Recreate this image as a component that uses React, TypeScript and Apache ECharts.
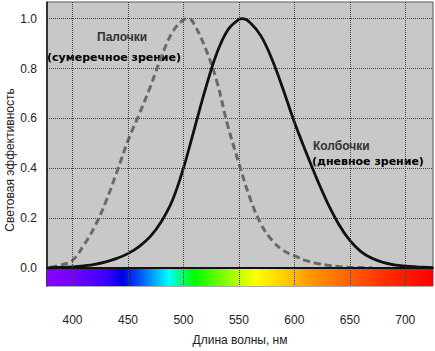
import React, { useEffect, useRef } from "react";
import * as echarts from "echarts";

const scotopicWl = [380, 390, 400, 410, 420, 430, 440, 450, 460, 470, 480, 490, 500, 505, 510, 520, 530, 540, 550, 560, 570, 580, 590, 600, 610, 620, 630, 640, 650, 660, 670];
const scotopicV = [0.002, 0.012, 0.03, 0.09, 0.165, 0.265, 0.385, 0.51, 0.615, 0.725, 0.845, 0.945, 0.995, 1.0, 0.975, 0.88, 0.75, 0.57, 0.42, 0.28, 0.175, 0.11, 0.07, 0.048, 0.03, 0.018, 0.01, 0.005, 0.002, 0.001, 0.0];

const photopicWl = [377, 390, 400, 410, 420, 430, 440, 450, 460, 470, 480, 490, 500, 510, 520, 530, 540, 550, 553, 560, 570, 580, 590, 600, 610, 620, 630, 640, 650, 660, 670, 680, 690, 700, 710, 720, 725];
const photopicV = [0.0, 0.002, 0.004, 0.008, 0.014, 0.024, 0.038, 0.057, 0.085, 0.125, 0.185, 0.27, 0.4, 0.56, 0.72, 0.86, 0.955, 0.997, 1.0, 0.985, 0.93, 0.835, 0.715, 0.585, 0.47, 0.36, 0.26, 0.175, 0.11, 0.065, 0.038, 0.022, 0.012, 0.007, 0.004, 0.002, 0.001];

const xTicks = [400, 450, 500, 550, 600, 650, 700];
const yTicks = [0, 0.2, 0.4, 0.6, 0.8, 1.0];

const spectrumWl = [377, 400, 430, 445, 460, 475, 487, 500, 510, 530, 550, 565, 590, 610, 650, 680, 725];
const spectrumColors = ["#8a00ff", "#7800ff", "#3a00ff", "#0000e0", "#0050ff", "#00b0ff", "#00ffff", "#00ff60", "#00ff00", "#60ff00", "#c0ff00", "#ffff00", "#ffd000", "#ffa000", "#ff6000", "#ff3000", "#ff0000"];

const X_MIN = 377;
const X_MAX = 725;

export default function App() {
  const ref = useRef<HTMLDivElement>(null);
  useEffect(() => {
    if (!ref.current) return;
    const chart = echarts.init(ref.current, null, { renderer: "svg" });
    const stops = spectrumWl.map((w, i) => ({
      offset: (w - X_MIN) / (X_MAX - X_MIN),
      color: spectrumColors[i],
    }));
    chart.setOption({
      animation: false,
      grid: {
        left: 47,
        right: 2,
        top: 2,
        bottom: 43,
        show: true,
        backgroundColor: "#c8c8c8",
        borderColor: "#555",
        borderWidth: 1,
      },
      xAxis: {
        type: "value",
        min: X_MIN,
        max: X_MAX,
        z: 3,
        name: "Длина волны, нм",
        nameLocation: "middle",
        nameGap: 48,
        nameTextStyle: { fontFamily: "Liberation Sans", fontSize: 12, color: "#222" },
        axisLine: { onZero: true, lineStyle: { color: "#111", width: 2 } },
        axisTick: { show: false, customValues: xTicks },
        axisLabel: {
          customValues: xTicks,
          margin: 28,
          fontFamily: "Liberation Sans",
          fontSize: 12,
          color: "#222",
        },
        splitLine: { show: true, lineStyle: { color: "#444", width: 1, type: "dotted" } },
      },
      yAxis: {
        type: "value",
        min: -0.073,
        max: 1.067,
        axisLine: { show: true, lineStyle: { color: "#111", width: 1.5 } },
        axisTick: { show: false, customValues: yTicks },
        axisLabel: {
          customValues: yTicks,
          margin: 10,
          fontFamily: "Liberation Sans",
          fontSize: 12,
          color: "#222",
          formatter: (v: number) => v.toFixed(1),
        },
        splitLine: { show: true, lineStyle: { color: "#444", width: 1, type: "dotted" } },
      },
      graphic: [
        {
          type: "text",
          x: 10,
          y: 160,
          rotation: Math.PI / 2,
          style: {
            text: "Световая эффективность",
            fontFamily: "Liberation Sans",
            fontSize: 12,
            fill: "#222",
            align: "center",
            verticalAlign: "middle",
          },
        },
        {
          type: "text",
          x: 97,
          y: 37,
          style: { text: "Палочки", fontFamily: "Liberation Sans", fontWeight: "bold", fontSize: 12, fill: "#333", verticalAlign: "middle" },
        },
        {
          type: "text",
          x: 47,
          y: 57,
          style: { text: "(сумеречное зрение)", fontFamily: "DejaVu Sans", fontWeight: "bold", fontSize: 11, fill: "#000", verticalAlign: "middle" },
        },
        {
          type: "text",
          x: 313,
          y: 146,
          style: { text: "Колбочки", fontFamily: "Liberation Sans", fontWeight: "bold", fontSize: 12, fill: "#333", verticalAlign: "middle" },
        },
        {
          type: "text",
          x: 312,
          y: 161,
          style: { text: "(дневное зрение)", fontFamily: "DejaVu Sans", fontWeight: "bold", fontSize: 11, fill: "#000", verticalAlign: "middle" },
        },
      ],
      series: [
        {
          name: "Палочки",
          type: "line",
          data: scotopicWl.map((w, i) => [w, scotopicV[i]]),
          smooth: 0.4,
          showSymbol: false,
          lineStyle: { color: "#6a6a6a", width: 3, type: [7, 4] },
          z: 2,
        },
        {
          name: "Колбочки",
          type: "line",
          data: photopicWl.map((w, i) => [w, photopicV[i]]),
          smooth: 0.4,
          showSymbol: false,
          lineStyle: { color: "#111", width: 2.8 },
          z: 2,
          markArea: {
            silent: true,
            itemStyle: {
              color: { type: "linear", x: 0, y: 0, x2: 1, y2: 0, colorStops: stops },
            },
            data: [[{ xAxis: X_MIN, yAxis: -0.073 }, { xAxis: X_MAX, yAxis: 0 }]],
          },
        },
      ],
    });
    return () => chart.dispose();
  }, []);
  return <div ref={ref} style={{ width: 435, height: 351, position: "absolute", left: 0, top: 0 }} />;
}
